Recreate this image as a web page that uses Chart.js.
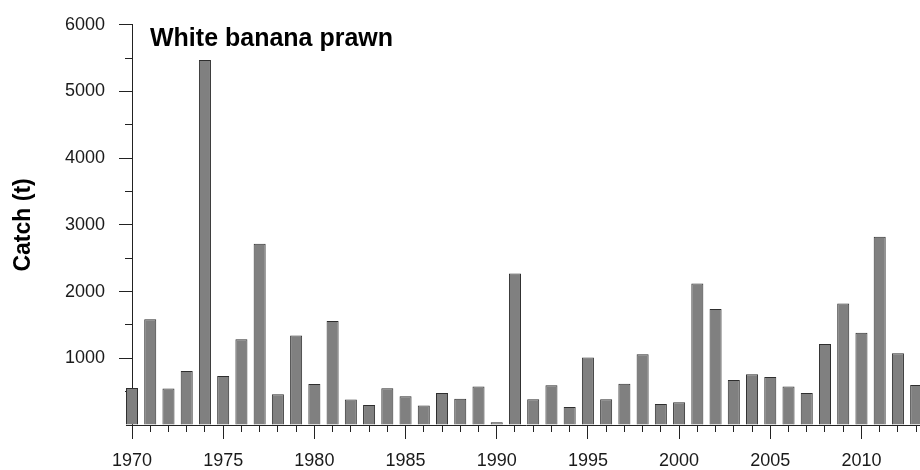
<!DOCTYPE html>
<html>
<head>
<meta charset="utf-8">
<script src="https://cdn.jsdelivr.net/npm/chart.js@4/dist/chart.umd.min.js"></script>
<style>
  html, body { margin: 0; padding: 0; background: #fff; }
  #wrap { width: 920px; height: 470px; position: relative; }
</style>
</head>
<body>
<div id="wrap"><canvas id="chart"></canvas></div>
<script>
// Annual white banana prawn catch, tonnes
const years = [
  1970, 1971, 1972, 1973, 1974, 1975, 1976, 1977, 1978, 1979,
  1980, 1981, 1982, 1983, 1984, 1985, 1986, 1987, 1988, 1989,
  1990, 1991, 1992, 1993, 1994, 1995, 1996, 1997, 1998, 1999,
  2000, 2001, 2002, 2003, 2004, 2005, 2006, 2007, 2008, 2009,
  2010, 2011, 2012, 2013
];
const catchTonnes = [
  556, 1584, 547, 809, 5474, 735, 1286, 2717, 462, 1341,
  616, 1560, 383, 298, 551, 432, 293, 481, 392, 576,
  40, 2272, 387, 595, 268, 1012, 387, 620, 1062, 313,
  342, 2123, 1741, 675, 759, 719, 576, 481, 1215, 1820,
  1384, 2823, 1076, 600
];
const yearLabelStep = 5;        // labelled year ticks
const catchLabelStep = 1000;    // labelled catch ticks
const catchMax = 6000;
const chartTitle = 'White banana prawn';
const axisTitle = 'Catch (t)';

const FONT = '"Liberation Sans", Arial, Helvetica, sans-serif';
const AXIS = '#222222';

// Minor ticks, the baseline under the first bar and the in-plot title
const axisExtras = {
  id: 'axisExtras',
  beforeDatasetsDraw(chart) {
    const { ctx, chartArea, scales: { x, y } } = chart;
    ctx.save();
    ctx.strokeStyle = AXIS;
    ctx.lineWidth = 1;
    ctx.beginPath();
    for (let yr = Math.ceil(x.min); yr <= Math.floor(x.max); yr++) {
      if (yr % yearLabelStep === 0) continue;
      const px = Math.round(x.getPixelForValue(yr) - 0.5) + 0.5;
      ctx.moveTo(px, chartArea.bottom);
      ctx.lineTo(px, chartArea.bottom + 7);
    }
    for (let v = catchLabelStep / 2; v < y.max; v += catchLabelStep) {
      const py = Math.round(y.getPixelForValue(v) - 0.5) + 0.5;
      ctx.moveTo(chartArea.left - 7, py);
      ctx.lineTo(chartArea.left, py);
    }
    ctx.stroke();
    ctx.restore();
  },
  afterDatasetsDraw(chart) {
    const { ctx, chartArea } = chart;
    const first = chart.getDatasetMeta(0).data[0];
    if (first) {
      const py = Math.round(chartArea.bottom - 0.5) + 0.5;
      ctx.save();
      ctx.strokeStyle = AXIS;
      ctx.lineWidth = 1;
      ctx.beginPath();
      ctx.moveTo(first.x - first.width / 2, py);
      ctx.lineTo(chartArea.left, py);
      ctx.stroke();
      ctx.restore();
    }
  },
  afterDraw(chart) {
    const { ctx, chartArea } = chart;
    ctx.save();
    ctx.fillStyle = '#000';
    ctx.font = 'bold 25px ' + FONT;
    ctx.textAlign = 'left';
    ctx.textBaseline = 'alphabetic';
    ctx.fillText(chartTitle, chartArea.left + 18, chartArea.top + 21);
    ctx.restore();
  }
};

new Chart(document.getElementById('chart'), {
  type: 'bar',
  data: {
    datasets: [{
      data: years.map((yr, i) => ({ x: yr, y: catchTonnes[i] })),
      backgroundColor: '#808080',
      borderColor: '#2e2e2e',
      borderWidth: 1,
      barPercentage: 0.66,
      categoryPercentage: 1,
      clip: false
    }]
  },
  options: {
    responsive: true,
    maintainAspectRatio: false,
    animation: false,
    layout: { padding: { top: 22, right: 0, bottom: 0, left: 0 } },
    plugins: {
      legend: { display: false },
      tooltip: { enabled: false }
    },
    scales: {
      x: {
        type: 'linear',
        min: years[0],
        max: 2013.21,
        offset: false,
        grid: {
          offset: false,
          drawOnChartArea: false,
          tickLength: 14,
          tickColor: AXIS,
          color: AXIS
        },
        border: { display: true, color: AXIS, width: 1 },
        ticks: {
          stepSize: yearLabelStep,
          includeBounds: false,
          autoSkip: false,
          maxRotation: 0,
          padding: 11,
          color: '#1a1a1a',
          font: { family: FONT, size: 18 },
          callback: v => String(v)
        },
        afterFit: s => { s.height = 45; }
      },
      y: {
        min: 0,
        max: catchMax,
        grid: {
          drawOnChartArea: false,
          tickLength: 13,
          tickColor: ctx => (ctx.tick && ctx.tick.value === 0) ? 'rgba(0,0,0,0)' : AXIS,
          color: AXIS
        },
        border: { display: true, color: AXIS, width: 1 },
        ticks: {
          stepSize: catchLabelStep,
          padding: 14,
          color: '#1a1a1a',
          font: { family: FONT, size: 18 },
          callback: v => (v === 0 ? '' : String(v))
        },
        title: {
          display: true,
          text: axisTitle,
          color: '#000',
          font: { family: FONT, size: 23, weight: 'bold' },
          padding: { top: 10, bottom: 0 }
        },
        afterFit: s => { s.width = 132; }
      }
    }
  },
  plugins: [axisExtras]
});
</script>
</body>
</html>
